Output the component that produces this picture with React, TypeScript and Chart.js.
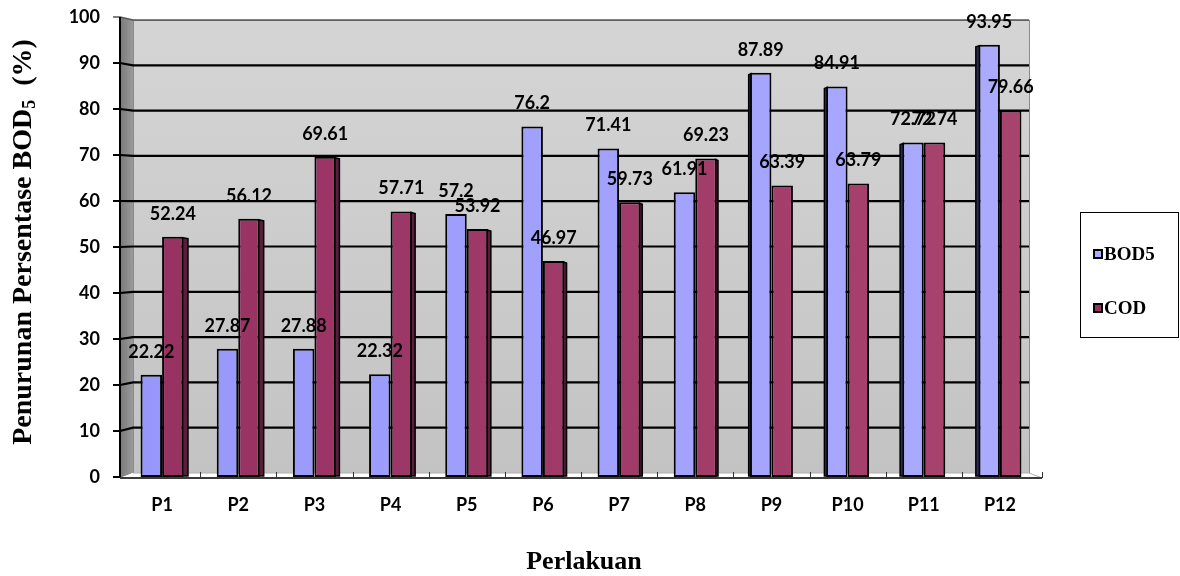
import React, { useEffect, useRef } from 'react';
import { Chart, registerables } from 'chart.js';

Chart.register(...registerables);

const categories = ['P1', 'P2', 'P3', 'P4', 'P5', 'P6', 'P7', 'P8', 'P9', 'P10', 'P11', 'P12'];
const bod5 = [22.22, 27.87, 27.88, 22.32, 57.2, 76.2, 71.41, 61.91, 87.89, 84.91, 72.72, 93.95];
const cod = [52.24, 56.12, 69.61, 57.71, 53.92, 46.97, 59.73, 69.23, 63.39, 63.79, 72.74, 79.66];
const yTicks = [0, 10, 20, 30, 40, 50, 60, 70, 80, 90, 100];
const seriesNames = ['BOD5', 'COD'];
const xTitle = 'Perlakuan';
const yTitleMain = 'Penurunan Persentase BOD';
const yTitleSub = '5';
const yTitleEnd = '  (%)';

const BOD_COLORS = ['#9797fb', '#ababff'];
const COD_COLORS = ['#963163', '#a9446f'];
const BOD_SIDE = '#2c2c5c';
const COD_SIDE = '#5a1d3b';
const TICK_FONT = 'bold 18px Lato';

function hGradient(colors: string[]) {
  return (c: any) => {
    const area = c.chart.chartArea;
    if (!area) return colors[0];
    const g = c.chart.ctx.createLinearGradient(area.left, 0, area.right, 0);
    g.addColorStop(0, colors[0]);
    g.addColorStop(1, colors[1]);
    return g;
  };
}

const scenePlugin = {
  id: 'scene',
  beforeDatasetsDraw(chart: any) {
    const { ctx, chartArea: a, scales } = chart;
    const ys = scales.y;
    const frontX = a.left - 4;
    const backL = a.left + 9;
    const backR = a.right - 9;
    const frontR = a.right + 4;
    const backTop = a.top + 3;
    const backBot = a.bottom - 4;
    const frontY = (v: number) => ys.getPixelForValue(v);
    const backY = (v: number) => backBot - ((backBot - backTop) * v) / 100;
    const f0 = frontY(0) + 1;
    ctx.save();
    // back wall
    const g = ctx.createLinearGradient(0, backTop, 0, backBot);
    g.addColorStop(0, '#d5d5d5');
    g.addColorStop(1, '#c3c3c3');
    ctx.fillStyle = g;
    ctx.fillRect(backL, backTop, backR - backL, backBot - backTop);
    ctx.strokeStyle = '#8a8a8a';
    ctx.lineWidth = 1;
    ctx.strokeRect(backL + 0.5, backTop + 0.5, backR - backL, backBot - backTop);
    // side wall
    const sg = ctx.createLinearGradient(frontX, 0, backL, 0);
    sg.addColorStop(0, '#7a7a7a');
    sg.addColorStop(1, '#9a9a9a');
    ctx.fillStyle = sg;
    ctx.beginPath();
    ctx.moveTo(frontX, frontY(100));
    ctx.lineTo(backL, backTop);
    ctx.lineTo(backL, backBot);
    ctx.lineTo(frontX, f0);
    ctx.closePath();
    ctx.fill();
    // floor
    ctx.fillStyle = '#ffffff';
    ctx.beginPath();
    ctx.moveTo(frontX, f0);
    ctx.lineTo(backL, backBot);
    ctx.lineTo(backR, backBot);
    ctx.lineTo(frontR, f0);
    ctx.closePath();
    ctx.fill();
    ctx.strokeStyle = '#b0b0b0';
    ctx.lineWidth = 1;
    ctx.beginPath();
    ctx.moveTo(backL, backBot);
    ctx.lineTo(backR, backBot);
    ctx.lineTo(frontR, f0);
    ctx.stroke();
    // gridlines
    for (const v of yTicks) {
      if (v === 0) continue;
      ctx.strokeStyle = v === 100 ? '#555555' : '#000000';
      ctx.lineWidth = v === 100 ? 1.5 : 2.2;
      ctx.beginPath();
      ctx.moveTo(frontX - 7, frontY(v));
      ctx.lineTo(frontX, frontY(v));
      ctx.lineTo(backL, backY(v));
      ctx.lineTo(backR, backY(v));
      ctx.stroke();
    }
    // front axis
    ctx.strokeStyle = '#000000';
    ctx.lineWidth = 2;
    ctx.beginPath();
    ctx.moveTo(frontX, frontY(100));
    ctx.lineTo(frontX, f0);
    ctx.stroke();
    ctx.beginPath();
    ctx.moveTo(frontX - 7, frontY(0));
    ctx.lineTo(frontX, frontY(0));
    ctx.stroke();
    // floor front edge
    ctx.strokeStyle = '#3c3c3c';
    ctx.lineWidth = 2;
    ctx.beginPath();
    ctx.moveTo(frontX, f0);
    ctx.lineTo(frontR, f0);
    ctx.stroke();
    // category separators on floor
    const xs = scales.x;
    const step = (a.right - a.left) / categories.length;
    ctx.strokeStyle = '#333333';
    ctx.lineWidth = 1;
    for (let k = 1; k <= categories.length; k++) {
      const x = Math.round(xs.left + k * step + (k === categories.length ? 4 : 0)) + 0.5;
      ctx.beginPath();
      ctx.moveTo(x, f0 - 6);
      ctx.lineTo(x, f0);
      ctx.stroke();
    }
    // y tick labels
    ctx.font = TICK_FONT;
    ctx.fillStyle = '#000';
    ctx.textAlign = 'right';
    ctx.textBaseline = 'middle';
    for (const v of yTicks) {
      ctx.fillText(String(v), frontX - 20, frontY(v));
    }
    ctx.restore();
  },
  afterDatasetsDraw(chart: any) {
    const { ctx } = chart;
    ctx.save();
    const metaB = chart.getDatasetMeta(0);
    const metaC = chart.getDatasetMeta(1);
    const n = categories.length;
    for (let j = 0; j < n; j++) {
      const w = 2 + Math.abs(j - (n / 2 + 1.5)) * 0.45;
      if (j < 8) {
        const bar = metaC.data[j];
        const x0 = bar.x + bar.width / 2 - 1;
        ctx.fillStyle = COD_SIDE;
        ctx.beginPath();
        ctx.moveTo(x0, bar.y + 1);
        ctx.lineTo(x0 + w, bar.y + 2);
        ctx.lineTo(x0 + w, bar.base - 1);
        ctx.lineTo(x0, bar.base - 1);
        ctx.closePath();
        ctx.fill();
        ctx.strokeStyle = '#000';
        ctx.lineWidth = 1.5;
        ctx.stroke();
      } else {
        const bar = metaB.data[j];
        const x0 = bar.x - bar.width / 2 + 1;
        ctx.fillStyle = BOD_SIDE;
        ctx.beginPath();
        ctx.moveTo(x0, bar.y + 1);
        ctx.lineTo(x0 - w, bar.y + 2);
        ctx.lineTo(x0 - w, bar.base - 1);
        ctx.lineTo(x0, bar.base - 1);
        ctx.closePath();
        ctx.fill();
        ctx.strokeStyle = '#000';
        ctx.lineWidth = 1.5;
        ctx.stroke();
      }
    }
    // data labels
    ctx.font = TICK_FONT;
    ctx.fillStyle = '#000';
    ctx.textAlign = 'center';
    ctx.textBaseline = 'middle';
    chart.data.datasets.forEach((ds: any, di: number) => {
      const meta = chart.getDatasetMeta(di);
      meta.data.forEach((bar: any, j: number) => {
        ctx.fillText(String(ds.data[j]), bar.x, bar.y - 23);
      });
    });
    ctx.restore();
  },
  afterDraw(chart: any) {
    const { ctx } = chart;
    ctx.save();
    // x title
    ctx.fillStyle = '#000';
    ctx.font = 'bold 26px "Liberation Serif"';
    ctx.textAlign = 'center';
    ctx.textBaseline = 'alphabetic';
    ctx.fillText(xTitle, 584, 569);
    // y title
    ctx.translate(31, 242);
    ctx.rotate(-Math.PI / 2);
    ctx.textAlign = 'left';
    const big = 'bold 28px "Liberation Serif"';
    const small = 'bold 18px "Liberation Serif"';
    ctx.font = big;
    const w1 = ctx.measureText(yTitleMain).width;
    const w3 = ctx.measureText(yTitleEnd).width;
    ctx.font = small;
    const w2 = ctx.measureText(yTitleSub).width;
    let x = -(w1 + w2 + w3) / 2;
    ctx.font = big;
    ctx.fillText(yTitleMain, x, 0);
    x += w1;
    ctx.font = small;
    ctx.fillText(yTitleSub, x, 4);
    x += w2;
    ctx.font = big;
    ctx.fillText(yTitleEnd, x, 0);
    ctx.restore();
    // legend
    ctx.save();
    ctx.fillStyle = '#fff';
    ctx.fillRect(1080, 212, 99, 126);
    ctx.strokeStyle = '#000';
    ctx.lineWidth = 1;
    ctx.strokeRect(1080.5, 212.5, 98, 125);
    const legendColors = [BOD_COLORS[1], COD_COLORS[0]];
    const ys = [254, 308];
    ctx.font = 'bold 19px "Liberation Serif"';
    ctx.textAlign = 'left';
    ctx.textBaseline = 'middle';
    seriesNames.forEach((name, i) => {
      ctx.fillStyle = legendColors[i];
      ctx.fillRect(1094, ys[i] - 4, 8, 8);
      ctx.strokeStyle = '#000';
      ctx.lineWidth = 2;
      ctx.strokeRect(1094, ys[i] - 4, 8, 8);
      ctx.fillStyle = '#000';
      ctx.fillText(name, 1104, ys[i] + 1);
    });
    ctx.restore();
  },
};

export default function App() {
  const ref = useRef<HTMLCanvasElement | null>(null);
  useEffect(() => {
    if (!ref.current) return;
    const chart = new Chart(ref.current, {
      type: 'bar',
      data: {
        labels: categories,
        datasets: [
          {
            label: seriesNames[0],
            data: bod5,
            backgroundColor: hGradient(BOD_COLORS),
            borderColor: '#000',
            borderWidth: 2,
            borderSkipped: false,
          },
          {
            label: seriesNames[1],
            data: cod,
            backgroundColor: hGradient(COD_COLORS),
            borderColor: '#000',
            borderWidth: 2,
            borderSkipped: false,
          },
        ],
      },
      options: {
        responsive: false,
        animation: false,
        layout: { padding: { left: 0, right: 142, top: 17, bottom: 0 } },
        datasets: { bar: { categoryPercentage: 0.565, barPercentage: 1 } },
        plugins: { legend: { display: false }, tooltip: { enabled: false } },
        scales: {
          x: {
            grid: { display: false, drawTicks: false },
            border: { display: false },
            ticks: { font: { family: 'Lato', size: 18, weight: 'bold' }, color: '#000', padding: 17 },
            afterFit: (s: any) => {
              s.height = 99;
            },
          },
          y: {
            min: 0,
            max: 100,
            grid: { display: false, drawTicks: false },
            border: { display: false },
            ticks: { display: false, stepSize: 10, padding: 0 },
            afterFit: (s: any) => {
              s.width = 124;
            },
          },
        },
      },
      plugins: [scenePlugin],
    });
    return () => chart.destroy();
  }, []);
  return (
    <div style={{ position: 'fixed', left: 0, top: 0, width: 1180, height: 576, background: '#fff' }}>
      <canvas ref={ref} width={1180} height={576} style={{ display: 'block' }} />
    </div>
  );
}
